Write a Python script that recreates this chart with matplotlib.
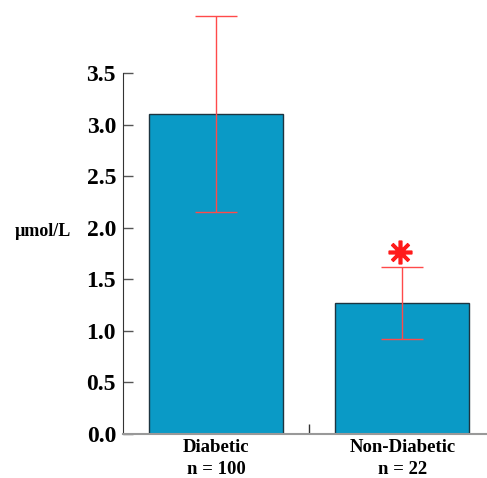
import matplotlib
matplotlib.use("Agg")
import matplotlib.pyplot as plt

categories = ["Diabetic\nn = 100", "Non-Diabetic\nn = 22"]
means = [3.10, 1.27]
errors = [0.95, 0.35]
yticks = [0.0, 0.5, 1.0, 1.5, 2.0, 2.5, 3.0, 3.5]
star_y = 1.76

plt.rcParams['font.family'] = ['Liberation Serif', 'DejaVu Serif']

fig = plt.figure(figsize=(4.87, 4.78), dpi=100)
ax = fig.add_axes([123/487, 44/478, 364/487, 434/478])

x = list(range(len(categories)))
ax.bar(x, means, width=0.72, color='#0a9ac6', edgecolor='#1d3440', linewidth=1.0, zorder=2)
ax.errorbar(x, means, yerr=errors, fmt='none', ecolor='#ff4a4a', elinewidth=1.0,
            capsize=14.8, capthick=1.0, zorder=3)
ax.plot([x[1] - 0.012], [star_y], linestyle='none', marker=(8, 2, 0), markersize=17,
        markeredgewidth=2.6, color='#ff1a1a', zorder=4)

ax.set_xlim(-0.5, 1.455)
ax.set_ylim(0, 434/103.14)
ax.spines['top'].set_visible(False)
ax.spines['right'].set_visible(False)
ax.spines['left'].set_bounds(0, 3.5)
ax.spines['left'].set_color('#333333')
ax.spines['bottom'].set_color('#999999')
ax.spines['bottom'].set_linewidth(1.5)

ax.set_yticks(yticks)
ax.set_yticklabels([f"{v:.1f}" for v in yticks], fontsize=17, fontweight='bold')
ax.tick_params(axis='y', direction='in', length=7, width=1, color='#555555', pad=5)

ax.set_xticks([0.5])
ax.set_xticklabels([''])
ax.tick_params(axis='x', direction='in', length=7, width=1, color='#333333')
for xi, lab in zip(x, categories):
    ax.text(xi, -0.05, lab, ha='center', va='top', fontsize=13.5, fontweight='bold',
            linespacing=1.38)

fig.text(15/487, 1 - 232/478, 'µmol/L', ha='left', va='center', fontsize=13, fontweight='bold')

fig.savefig('out.png', dpi=100)
